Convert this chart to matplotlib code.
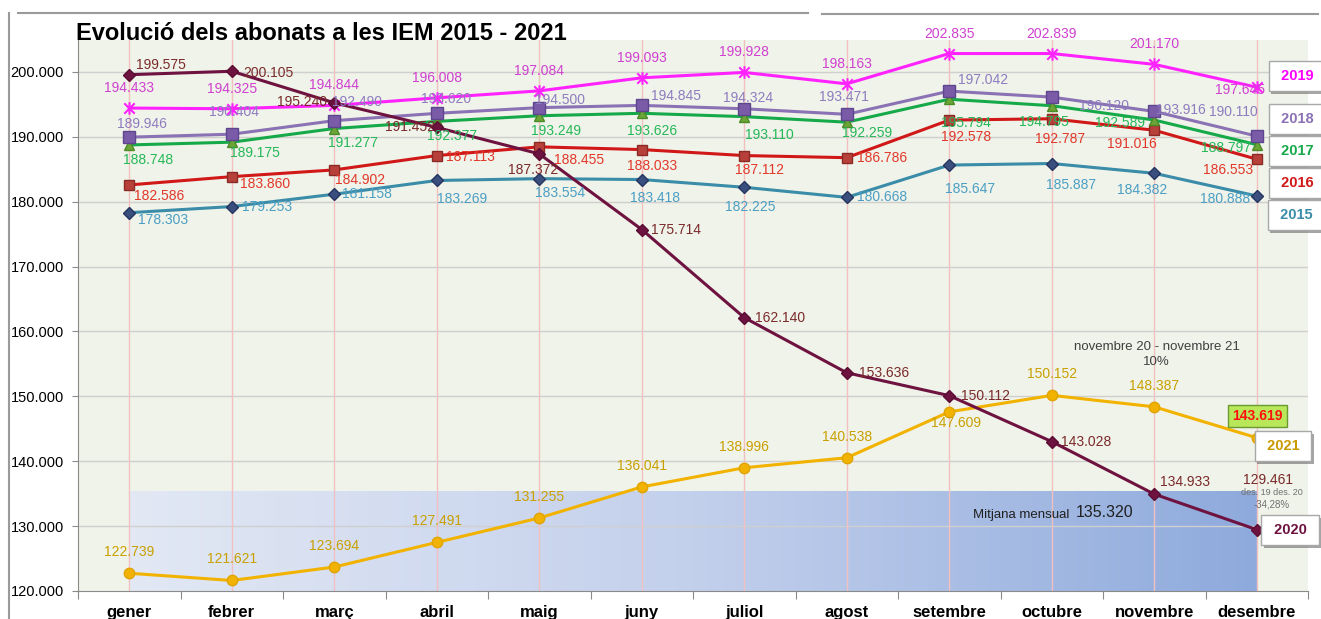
import numpy as np
import matplotlib
matplotlib.use("Agg")
import matplotlib.pyplot as plt
from matplotlib import font_manager
from matplotlib.lines import Line2D
from matplotlib.path import Path
import matplotlib.patheffects as pe

mesos = ["gener", "febrer", "març", "abril", "maig", "juny", "juliol",
         "agost", "setembre", "octubre", "novembre", "desembre"]

v2015 = [178303, 179253, 181158, 183269, 183554, 183418, 182225, 180668, 185647, 185887, 184382, 180888]
v2016 = [182586, 183860, 184902, 187113, 188455, 188033, 187112, 186786, 192578, 192787, 191016, 186553]
v2017 = [188748, 189175, 191277, 192377, 193249, 193626, 193110, 192259, 195794, 194795, 192589, 188797]
v2018 = [189946, 190404, 192490, 193620, 194500, 194845, 194324, 193471, 197042, 196120, 193916, 190110]
v2019 = [194433, 194325, 194844, 196008, 197084, 199093, 199928, 198163, 202835, 202839, 201170, 197645]
v2020 = [199575, 200105, 195240, 191452, 187372, 175714, 162140, 153636, 150112, 143028, 134933, 129461]
v2021 = [122739, 121621, 123694, 127491, 131255, 136041, 138996, 140538, 147609, 150152, 148387, 143619]

# mitjana gener-novembre 2021
mitjana = np.mean(v2021[:11])
var_nov = v2021[10] / v2020[10] - 1

names = {f.name for f in font_manager.fontManager.ttflist}
NARROW = "Liberation Sans Narrow" if "Liberation Sans Narrow" in names else "Liberation Sans"
plt.rcParams["font.family"] = ["Liberation Sans", "DejaVu Sans"]


def fmt(v):
    return f"{v:,.0f}".replace(",", ".")


# asterisc a l'estil Excel: creu en X amb una barra vertical
asterisc = Path([(-1, -1), (1, 1), (-1, 1), (1, -1), (0, -1.2), (0, 1.2)],
                [Path.MOVETO, Path.LINETO, Path.MOVETO, Path.LINETO, Path.MOVETO, Path.LINETO])

# (nom, valors, color linia, marcador, mida, color marcador, vora, color etiqueta, desplaçaments etiqueta en px)
series = [
    ("2015", v2015, "#3a8ca8", "D", 6, "#3a4f7e", "#253560", "#4a9ec4",
     [(34, -7), (35, 0), (33, 0), (25, -19), (21, -14), (13, -18), (6, -20), (35, 0), (21, -24), (19, -21), (-12, -17), (-32, -3)]),
    ("2016", v2016, "#d01818", "s", 7.5, "#b8403a", "#8a2a25", "#e2382a",
     [(30, -11), (33, -7), (26, -10), (34, -1), (40, -13), (10, -16), (15, -14), (35, 0), (17, -17), (8, -20), (-22, -14), (-29, -11)]),
    ("2017", v2017, "#16a94a", "^", 7, "#6ba538", "#4d8a28", "#25b858",
     [(19, -15), (23, -11), (19, -14), (15, -15), (17, -15), (10, -18), (25, -18), (20, -11), (17, -24), (-8, -16), (-34, -3), (-31, -3)]),
    ("2018", v2018, "#8a72b4", "s", 8, "#7a5ba8", "#5e4590", "#8e7cc0",
     [(13, 13), (2, 22), (23, 19), (9, 14), (21, 8), (34, 9), (4, 11), (-3, 17), (34, 11), (52, -9), (27, 1), (-23, 24)]),
    ("2019", v2019, "#ff22ff", asterisc, 9, "#ff22ff", "#ff22ff", "#d040d0",
     [(0, 20)] * 11 + [(-17, -3)]),
    ("2021", v2021, "#f2b200", "o", 7.5, "#f2b200", "#e0a400", "#c9a000",
     [(0, 21)] * 8 + [(7, -11), (0, 21), (0, 21), None]),
    ("2020", v2020, "#6e1240", "D", 6, "#6e1240", "#5a0c32", "#7a2a2a",
     [(32, 10), (37, -2), (-32, 1), (-27, 0), (-6, -16), (34, 0), (36, 0), (37, 0), (36, 0), (34, 0), (31, 12), (11, 50)]),
]

fig = plt.figure(figsize=(13.21, 6.19), dpi=100)
W, H = 1321, 619
ax = fig.add_axes([78 / W, 28 / H, (1308 - 78) / W, (591 - 39.5) / H])
ax.set_facecolor("#f0f3e9")
ax.set_xlim(-0.5, 11.5)
ax.set_ylim(120000, 205000)

x = np.arange(len(mesos))

# banda de la mitjana mensual amb degradat
grad = np.linspace(0, 1, 256).reshape(1, -1)
cmap = matplotlib.colors.LinearSegmentedColormap.from_list("g", ["#e2e8f4", "#c3d0ec", "#8eaadc"])
ax.imshow(grad, extent=[0, 11, 120000, mitjana], aspect="auto", cmap=cmap, zorder=0.5)

for yv in range(130000, 205000, 10000):
    ax.axhline(yv, color="#cfcfcf", lw=1, zorder=0.6)
for xi in x:
    ax.axvline(xi, color="#f2c0c0", lw=1, zorder=0.7)

for name, vals, lc, mk, ms, mfc, mec, tc, offs in series:
    ax.plot(x, vals, color=lc, lw=2.2, marker=mk, ms=ms, mfc=mfc, mec=mec,
            mew=1.5 if name == "2019" else 1, zorder=3)
    for xi, v, off in zip(x, vals, offs):
        if off is None:
            continue
        ax.annotate(fmt(v), (xi, v), xytext=off, textcoords="offset pixels",
                    ha="center", va="center", fontsize=10, color=tc,
                    family=NARROW, zorder=4)

# desembre 2021 destacat
ax.annotate(fmt(v2021[-1]), (11, v2021[-1]), xytext=(1, 22), textcoords="offset pixels",
            ha="center", va="center", fontsize=10, color="#ff1010", weight="bold",
            family=NARROW, zorder=5,
            bbox=dict(boxstyle="square,pad=0.3", fc="#b8e85a", ec="#6a9a30", lw=1))

ax.annotate("des. 19 des. 20", (11, v2020[-1]), xytext=(15, 37), textcoords="offset pixels",
            ha="center", va="center", fontsize=6.5, color="#707070", family=NARROW)
ax.annotate("-34,28%", (11, v2020[-1]), xytext=(15, 25), textcoords="offset pixels",
            ha="center", va="center", fontsize=7, color="#707070", family=NARROW)

ax.text(0.877, 0.442, "novembre 20 - novembre 21", transform=ax.transAxes,
        ha="center", va="center", fontsize=9.5, color="#404040", family=NARROW)
ax.text(0.877, 0.415, f"{var_nov:.0%}", transform=ax.transAxes,
        ha="center", va="center", fontsize=9.5, color="#404040", family=NARROW)

ax.text(8.70, 131700, "Mitjana mensual", ha="center", va="center",
        fontsize=9.5, color="#202020", family=NARROW, zorder=5)
ax.text(9.52, 132150, fmt(mitjana), ha="center", va="center",
        fontsize=11.5, color="#202020", zorder=5)

# eixos
ax.set_yticks(range(120000, 200001, 10000))
ax.set_yticklabels([fmt(v) for v in range(120000, 200001, 10000)], fontsize=10.5)
ax.set_xticks(np.arange(-0.5, 12, 1))
ax.set_xticklabels([])
ax.set_xticks(x, minor=True)
ax.set_xticklabels(mesos, minor=True, fontsize=12, weight="bold")
ax.tick_params(axis="x", which="minor", length=0, pad=10)
ax.tick_params(axis="x", which="major", length=6, color="#8a8a8a")
ax.tick_params(axis="y", length=4, color="#8a8a8a", pad=6)
for s in ["top", "right"]:
    ax.spines[s].set_visible(False)
for s in ["left", "bottom"]:
    ax.spines[s].set_color("#8a8a8a")

fig.text(76 / W, 1 - 33 / H, "Evolució dels abonats a les IEM 2015 - 2021",
         ha="left", va="center", fontsize=17, weight="bold")

# etiquetes de les sèries
etiquetes = [("2019", "#ff00ff", 1297, 76), ("2018", "#8a72b4", 1297, 119),
             ("2017", "#16a94a", 1297, 151), ("2016", "#d01818", 1297, 183),
             ("2015", "#3a8ca8", 1296, 215), ("2021", "#c99a00", 1283, 446),
             ("2020", "#6e1240", 1290, 530)]
for txt, c, px, py in etiquetes:
    t = fig.text(px / W, 1 - py / H, " " + txt + " ", ha="center", va="center",
                 fontsize=10.5, weight="bold", color=c, family=NARROW,
                 bbox=dict(boxstyle="square,pad=0.55", fc="white", ec="#a8a8a8", lw=1))
    t.get_bbox_patch().set_path_effects([pe.SimplePatchShadow(offset=(2, -2), alpha=0.5), pe.Normal()])

# marc superior
fig.add_artist(Line2D([18 / W, 808 / W], [1 - 13 / H] * 2, color="#9a9a9a", lw=1.5))
fig.add_artist(Line2D([822 / W, 1318 / W], [1 - 14 / H] * 2, color="#9a9a9a", lw=1.5))
fig.add_artist(Line2D([9 / W, 9 / W], [1 - 13 / H, 0], color="#9a9a9a", lw=1.5))

fig.savefig("out.png", dpi=100)
